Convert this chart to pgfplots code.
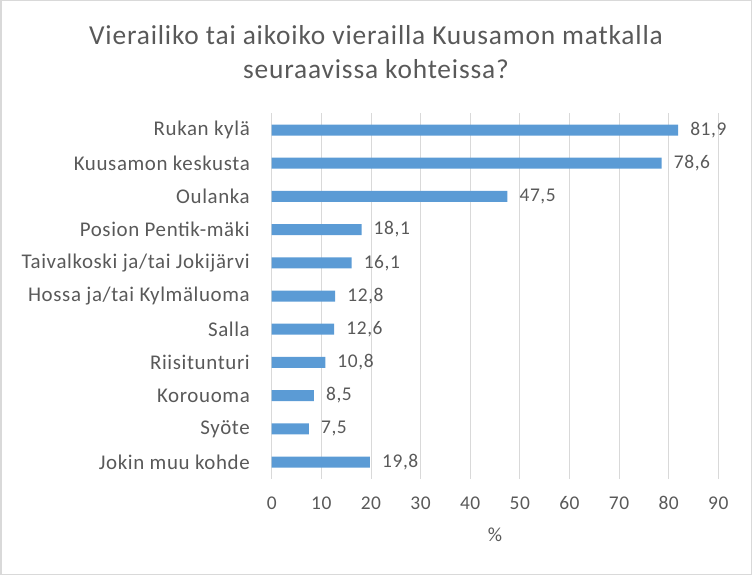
\documentclass[border=0pt]{standalone}
\usepackage{pgfplots}
\pgfplotsset{compat=1.18}
\usepackage{fontspec}
\setmainfont{Carlito}[LetterSpace=3]
\definecolor{txt}{HTML}{595959}
\definecolor{barc}{HTML}{5B9BD5}
\definecolor{gridc}{HTML}{D9D9D9}
\begin{document}
\begin{tikzpicture}
\useasboundingbox (0,0) rectangle (752bp,575bp);
\draw[gridc, line width=1.5bp] (0.75bp,0.75bp) rectangle (751.25bp,574.25bp);
\node[anchor=base, text=txt, font=\fontsize{27.5}{34}\selectfont, inner sep=0pt] at (376bp,530.7bp) {Vierailiko tai aikoiko vierailla Kuusamon matkalla};
\node[anchor=base, text=txt, font=\fontsize{27.5}{34}\selectfont, inner sep=0pt] at (376bp,496.7bp) {seuraavissa kohteissa?};
\begin{axis}[
  at={(271.7bp,96.4bp)}, anchor=south west,
  scale only axis, width=446.6bp, height=365.2bp,
  xbar, bar width=11bp,
  xmin=0, xmax=90, ymin=-0.5, ymax=10.5,
  y dir=reverse,
  ytick={0,1,2,3,4,5,6,7,8,9,10},
  yticklabels={Rukan kylä, Kuusamon keskusta, Oulanka, Posion Pentik-mäki, Taivalkoski ja/tai Jokijärvi, Hossa ja/tai Kylmäluoma, Salla, Riisitunturi, Korouoma, Syöte, Jokin muu kohde},
  xtick={0,10,...,90},
  xmajorgrids,
  major grid style={gridc, line width=0.75bp},
  axis line style={draw=none},
  major tick length=0pt,
  tick style={draw=none},
  /pgf/number format/assume math mode=true,
  xticklabel style={font=\fontsize{19.5}{20}\selectfont, text=txt, anchor=base, inner sep=0pt, yshift=-30.7bp},
  yticklabel style={font=\fontsize{21}{22}\selectfont, text=txt, anchor=east, inner sep=0pt, xshift=-21.7bp},
  xlabel={\%},
  xlabel style={at={(axis description cs:0.5,0)}, anchor=base, inner sep=0pt, yshift=-62.9bp, font=\fontsize{20}{22}\selectfont, text=txt},
  nodes near coords,
  nodes near coords style={/pgf/number format/use comma, /pgf/number format/fixed, /pgf/number format/fixed zerofill, /pgf/number format/precision=1, /pgf/number format/assume math mode=true, anchor=west, inner sep=0pt, xshift=12bp, font=\fontsize{19.5}{20}\selectfont, text=txt},
]
\addplot[fill=barc, draw=none] table[x=v, y=i] {
i v
0 81.9
1 78.6
2 47.5
3 18.1
4 16.1
5 12.8
6 12.6
7 10.8
8 8.5
9 7.5
10 19.8
};
\end{axis}
\end{tikzpicture}
\end{document}
